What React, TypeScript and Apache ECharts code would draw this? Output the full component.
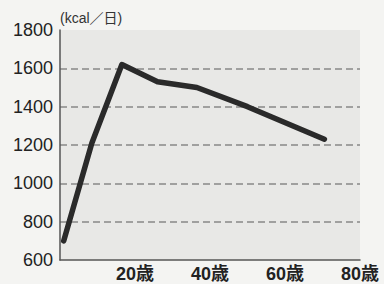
import React, { useEffect, useRef } from "react";
import * as echarts from "echarts";

const ages = [1, 8.5, 16.5, 26, 36.5, 50, 70.5];
const kcal = [700, 1210, 1620, 1530, 1500, 1400, 1230];
const unitLabel = "(kcal／日)";
const ageSuffix = "歳";

export default function App() {
  const ref = useRef<HTMLDivElement>(null);
  useEffect(() => {
    const chart = echarts.init(ref.current!, null, { renderer: "svg" });
    chart.setOption({
      animation: false,
      backgroundColor: "#f4f4f2",
      grid: {
        left: 60,
        right: 24,
        top: 30,
        bottom: 24,
        show: true,
        backgroundColor: "#e8e8e6",
        borderWidth: 0,
      },
      graphic: [
        {
          type: "text",
          left: 60,
          top: 11,
          style: {
            text: unitLabel,
            fill: "#333",
            font: "14px 'Liberation Sans', 'Noto Sans CJK JP', sans-serif",
          },
        },
      ],
      xAxis: {
        type: "value",
        min: 0,
        max: 80,
        interval: 20,
        axisLine: { show: true, lineStyle: { color: "#555", width: 1.5 } },
        axisTick: { show: false },
        splitLine: { show: false },
        axisLabel: {
          margin: 5,
          color: "#222",
          fontSize: 18,
          fontWeight: "bold",
          fontFamily: "'Liberation Sans', 'Noto Sans CJK JP', sans-serif",
          formatter: (v: number) => (v === 0 ? "" : v + ageSuffix),
        },
      },
      yAxis: {
        type: "value",
        min: 600,
        max: 1800,
        interval: 200,
        axisLine: { show: true, lineStyle: { color: "#555", width: 1.5 } },
        axisTick: { show: false },
        axisLabel: {
          margin: 7,
          color: "#222",
          fontSize: 18,
          fontFamily: "'Liberation Sans', sans-serif",
          formatter: (v: number) => String(v),
        },
        splitLine: {
          show: true,
          lineStyle: {
            color: ["transparent", "#888", "#888", "#888", "#888", "#888", "transparent"],
            type: [7, 4],
            width: 1.5,
          },
        },
      },
      series: [
        {
          type: "line",
          data: ages.map((a, i) => [a, kcal[i]]),
          symbol: "none",
          lineStyle: { color: "#2a2a2a", width: 5.5, cap: "round", join: "round" },
        },
      ],
    });
    return () => chart.dispose();
  }, []);
  return (
    <div
      ref={ref}
      style={{ position: "absolute", left: 0, top: 0, width: 384, height: 284 }}
    />
  );
}
